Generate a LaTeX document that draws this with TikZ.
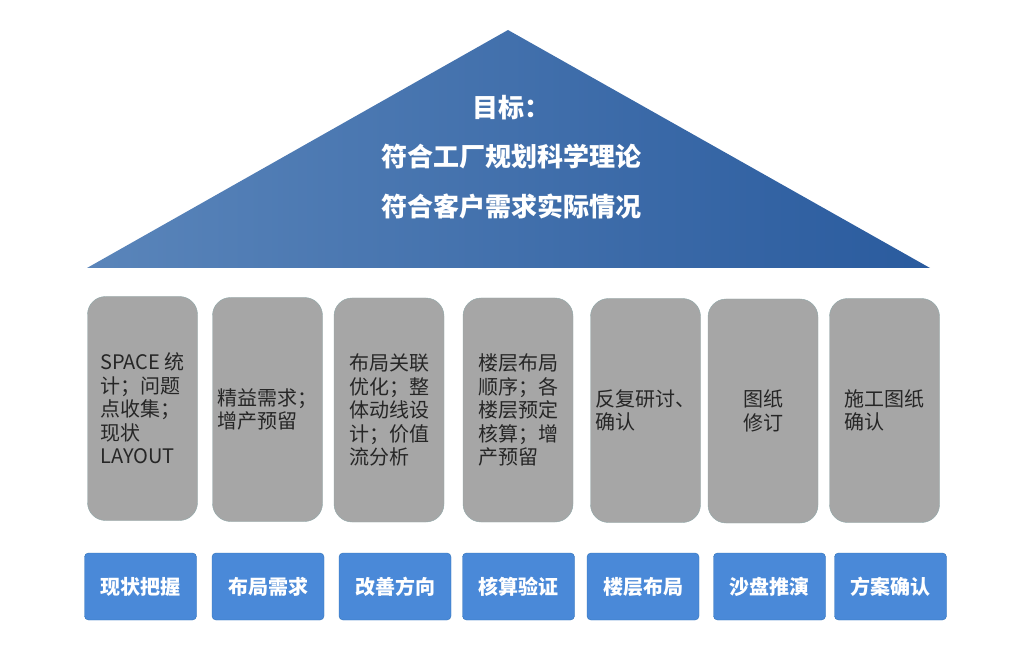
\documentclass[tikz,border=0pt]{standalone}
\usepackage{fontspec}
\setmainfont{Noto Sans CJK SC}
\usetikzlibrary{positioning}
\definecolor{roofleft}{HTML}{5A85BA}
\definecolor{roofright}{HTML}{2A5B9E}
\definecolor{pillargray}{HTML}{A6A6A6}
\definecolor{pillaredge}{HTML}{8FA6A8}
\definecolor{pillartext}{HTML}{262626}
\definecolor{stageblue}{HTML}{4A89D8}
\definecolor{stageedge}{HTML}{2F72B8}

\begin{document}
\begin{tikzpicture}
	[x=1pt, y=-1pt,
	 pillar/.style = {draw=pillaredge, fill=pillargray, rounded corners=18pt, minimum width=110pt, minimum height=224pt, inner sep=0pt, align=left, text=pillartext, font=\fontsize{20}{23.5}\selectfont},
	 stage/.style = {draw=stageedge, fill=stageblue, rounded corners=4pt, minimum width=112pt, minimum height=67pt, inner sep=0pt, text=white, font=\bfseries\fontsize{20}{22}\selectfont}]
	\useasboundingbox (0,0) rectangle (1026,647);
	% roof
	\shade[left color=roofleft, right color=roofright] (87,268) -- (508,30) -- (930,268) -- cycle;
	\node[align=center, text=white, font=\bfseries\fontsize{26}{49.5}\selectfont] (g) at (511,157) {目标：\\符合工厂规划科学理论\\符合客户需求实际情况};
	% pillars
	\node[pillar] (p1) at (142.5,408.5) {SPACE 统\\计；问题\\点收集；\\现状\\LAYOUT};
	\node[pillar] (p2) at (267.5,409.5) {精益需求；\\增产预留};
	\node[pillar] (p3) at (389,410) {布局关联\\优化；整\\体动线设\\计；价值\\流分析};
	\node[pillar] (p4) at (518,410) {楼层布局\\顺序；各\\楼层预定\\核算；增\\产预留};
	\node[pillar] (p5) at (645.5,410.5) {反复研讨、\\确认};
	\node[pillar] (p6) at (763,411) {图纸\\修订};
	\node[pillar] (p7) at (884.5,410.5) {施工图纸\\确认};
	% stages
	\node[stage] (s1) at (140.5,586.5) {现状把握};
	\node[stage] (s2) at (268,586.5) {布局需求};
	\node[stage] (s3) at (395,586.5) {改善方向};
	\node[stage] (s4) at (518.5,586.5) {核算验证};
	\node[stage] (s5) at (643,586.5) {楼层布局};
	\node[stage] (s6) at (769.5,586.5) {沙盘推演};
	\node[stage] (s7) at (890.5,586.5) {方案确认};
\end{tikzpicture}
\end{document}
